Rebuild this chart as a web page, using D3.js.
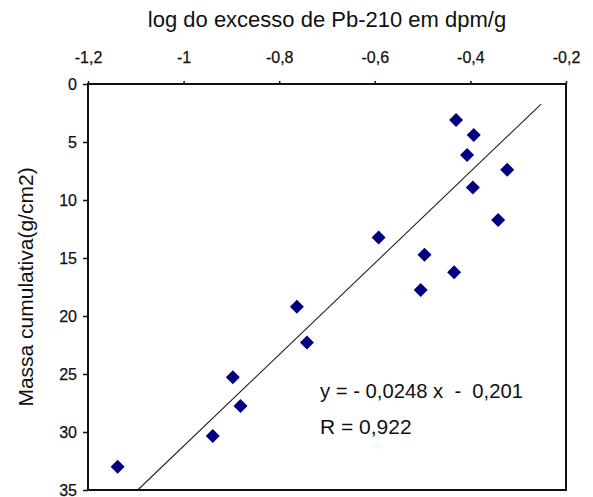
<!DOCTYPE html>
<html>
<head>
<meta charset="utf-8">
<script src="https://cdn.jsdelivr.net/npm/d3@7"></script>
<style>
  html, body { margin: 0; padding: 0; background: #fff; }
  svg { display: block; font-family: "Liberation Sans", Arial, sans-serif; }
  text { white-space: pre; }
</style>
</head>
<body>
<svg id="chart" width="593" height="497"></svg>
<script>
// ---- data ----
const logExcess = [-0.430, -0.393, -0.407, -0.323, -0.395, -0.342, -0.592, -0.496, -0.434, -0.504, -0.763, -0.742, -0.897, -0.881, -0.939, -1.138];
const massCum   = [3.11, 4.40, 6.13, 7.39, 8.92, 11.73, 13.24, 14.73, 16.22, 17.75, 19.21, 22.29, 25.28, 27.76, 30.35, 33.0];
const trendX = [-1.096, -0.252];
const trendY = [35, 1.73];
const xTicks = [-1.2, -1, -0.8, -0.6, -0.4, -0.2];
const xTickLabels = ["-1,2", "-1", "-0,8", "-0,6", "-0,4", "-0,2"];
const yTicks = [0, 5, 10, 15, 20, 25, 30, 35];
const yTickLabels = ["0", "5", "10", "15", "20", "25", "30", "35"];
const xTitle = "log do excesso de Pb-210 em dpm/g";
const yTitle = "Massa cumulativa(g/cm2)";
const eqText = "y = - 0,0248 x  -  0,201";
const rText = "R = 0,922";

// ---- layout ----
const svg = d3.select("#chart");
const L = 88, R = 566, T = 84, B = 490;
const x = d3.scaleLinear().domain([-1.2, -0.2]).range([L, R]);
const y = d3.scaleLinear().domain([0, 35]).range([T, B]);

// frame
svg.append("rect")
  .attr("x", L).attr("y", T).attr("width", R - L).attr("height", B - T)
  .attr("fill", "none").attr("stroke", "#111").attr("stroke-width", 2);

// axes
const xAxis = d3.axisTop(x).tickValues(xTicks)
  .tickFormat((d, i) => xTickLabels[i]).tickSizeInner(3).tickSizeOuter(0).tickPadding(18);
const gx = svg.append("g").attr("transform", `translate(0,${T})`).call(xAxis);
gx.select(".domain").remove();
gx.selectAll(".tick line").attr("stroke", "#111").attr("stroke-width", 1.5);
gx.selectAll(".tick text").attr("font-size", 16).attr("fill", "#111")
  .attr("stroke", "#111").attr("stroke-width", 0.25)
  .attr("font-family", '"Liberation Sans", Arial, sans-serif');

const yAxis = d3.axisLeft(y).tickValues(yTicks)
  .tickFormat((d, i) => yTickLabels[i]).tickSizeInner(5).tickSizeOuter(0).tickPadding(6);
const gy = svg.append("g").attr("transform", `translate(${L},0)`).call(yAxis);
gy.select(".domain").remove();
gy.selectAll(".tick line").attr("stroke", "#111").attr("stroke-width", 1.5);
gy.selectAll(".tick text").attr("font-size", 16).attr("fill", "#111")
  .attr("stroke", "#111").attr("stroke-width", 0.25)
  .attr("font-family", '"Liberation Sans", Arial, sans-serif');

// titles
svg.append("text").attr("x", (L + R) / 2).attr("y", 27)
  .attr("text-anchor", "middle").attr("font-size", 22).attr("fill", "#111").text(xTitle);
svg.append("text")
  .attr("transform", `translate(33,${(T + B) / 2}) rotate(-90)`)
  .attr("text-anchor", "middle").attr("font-size", 21).attr("fill", "#111").text(yTitle);

// trend line
svg.append("line")
  .attr("x1", x(trendX[0])).attr("y1", y(trendY[0]))
  .attr("x2", x(trendX[1])).attr("y2", y(trendY[1]))
  .attr("stroke", "#222").attr("stroke-width", 1.1);

// markers
const diamond = d3.symbol().type(d3.symbolSquare).size(98);
svg.append("g").selectAll("path")
  .data(logExcess.map((v, i) => [v, massCum[i]]))
  .join("path")
  .attr("d", diamond)
  .attr("transform", d => `translate(${x(d[0])},${y(d[1])}) rotate(45)`)
  .attr("fill", "#000080");

// equation
svg.append("text").attr("x", 320).attr("y", 398)
  .attr("font-size", 21).attr("fill", "#111").attr("textLength", 203)
  .attr("lengthAdjust", "spacingAndGlyphs").text(eqText);
svg.append("text").attr("x", 320).attr("y", 434)
  .attr("font-size", 21).attr("fill", "#111").text(rText);
</script>
</body>
</html>
